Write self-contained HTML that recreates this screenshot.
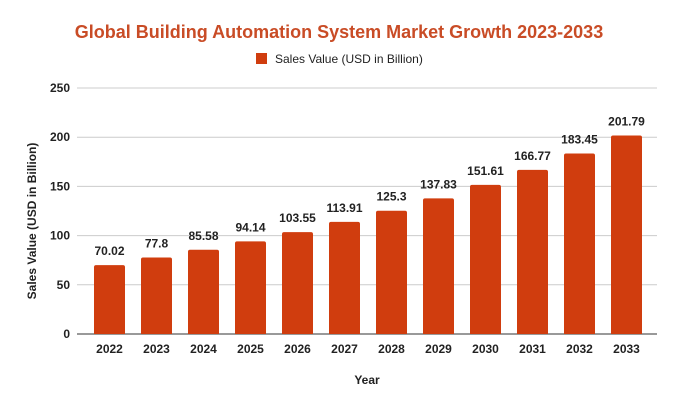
<!DOCTYPE html>
<html><head><meta charset="utf-8"><style>
body{margin:0;background:#fff;font-family:"Liberation Sans",sans-serif}
svg text{font-family:"Liberation Sans",sans-serif}
</style></head><body>
<svg id="chart" width="679" height="407">
<text x="339" y="38" text-anchor="middle" font-size="18" font-weight="bold" fill="#c94c26">Global Building Automation System Market Growth 2023-2033</text>
<rect x="256" y="53" width="11" height="11" fill="#d03d0e"/>
<text x="275" y="63" font-size="12" fill="#222">Sales Value (USD in Billion)</text>
<text transform="translate(36,221) rotate(-90)" text-anchor="middle" font-size="12" font-weight="bold" fill="#222">Sales Value (USD in Billion)</text>
<text x="367" y="384" text-anchor="middle" font-size="12" font-weight="bold" fill="#222">Year</text>
<g id="grid"></g><g id="bars"></g>
</svg>
<script>
const categories=["2022","2023","2024","2025","2026","2027","2028","2029","2030","2031","2032","2033"];
const values=[70.02,77.8,85.58,94.14,103.55,113.91,125.3,137.83,151.61,166.77,183.45,201.79];
const valueLabels=["70.02","77.8","85.58","94.14","103.55","113.91","125.3","137.83","151.61","166.77","183.45","201.79"];
const yTicks=[0,50,100,150,200,250];
const NS="http://www.w3.org/2000/svg";
const y0=334,y1=88,left=77,right=657;
const y=v=>y0-(v/250)*(y0-y1);
const x=i=>109.5+i*47;
const bw=31;
const g=document.getElementById('grid'),b=document.getElementById('bars');
function mk(t,a,p){const e=document.createElementNS(NS,t);for(const k in a)e.setAttribute(k,a[k]);p.appendChild(e);return e;}
yTicks.forEach(t=>{
  const l=mk('line',{x1:left,x2:right,y1:y(t),y2:y(t),stroke:t===0?'#333':'#ccc','stroke-width':1},g);
  
  
  const tx=mk('text',{x:70,y:y(t)+4,'text-anchor':'end','font-size':12,'font-weight':'bold',fill:'#222'},g);
  tx.textContent=t;
  
  
});
categories.forEach((c,i)=>{
  const h=y0-y(values[i]);
  const r=mk('path',{d:`M${x(i)-bw/2},${y0} V${y(values[i])+2} q0,-2 2,-2 H${x(i)+bw/2-2} q2,0 2,2 V${y0} Z`,fill:'#d03d0e'},b);
  
  
  const v=mk('text',{x:x(i),y:y(values[i])-10,'text-anchor':'middle','font-size':12,'font-weight':'bold',fill:'#222'},b);
  v.textContent=valueLabels[i];
  
  
  const t=mk('text',{x:x(i),y:353,'text-anchor':'middle','font-size':12,'font-weight':'bold',fill:'#222'},b);
  t.textContent=c;
  
  
});
</script>
</body></html>
